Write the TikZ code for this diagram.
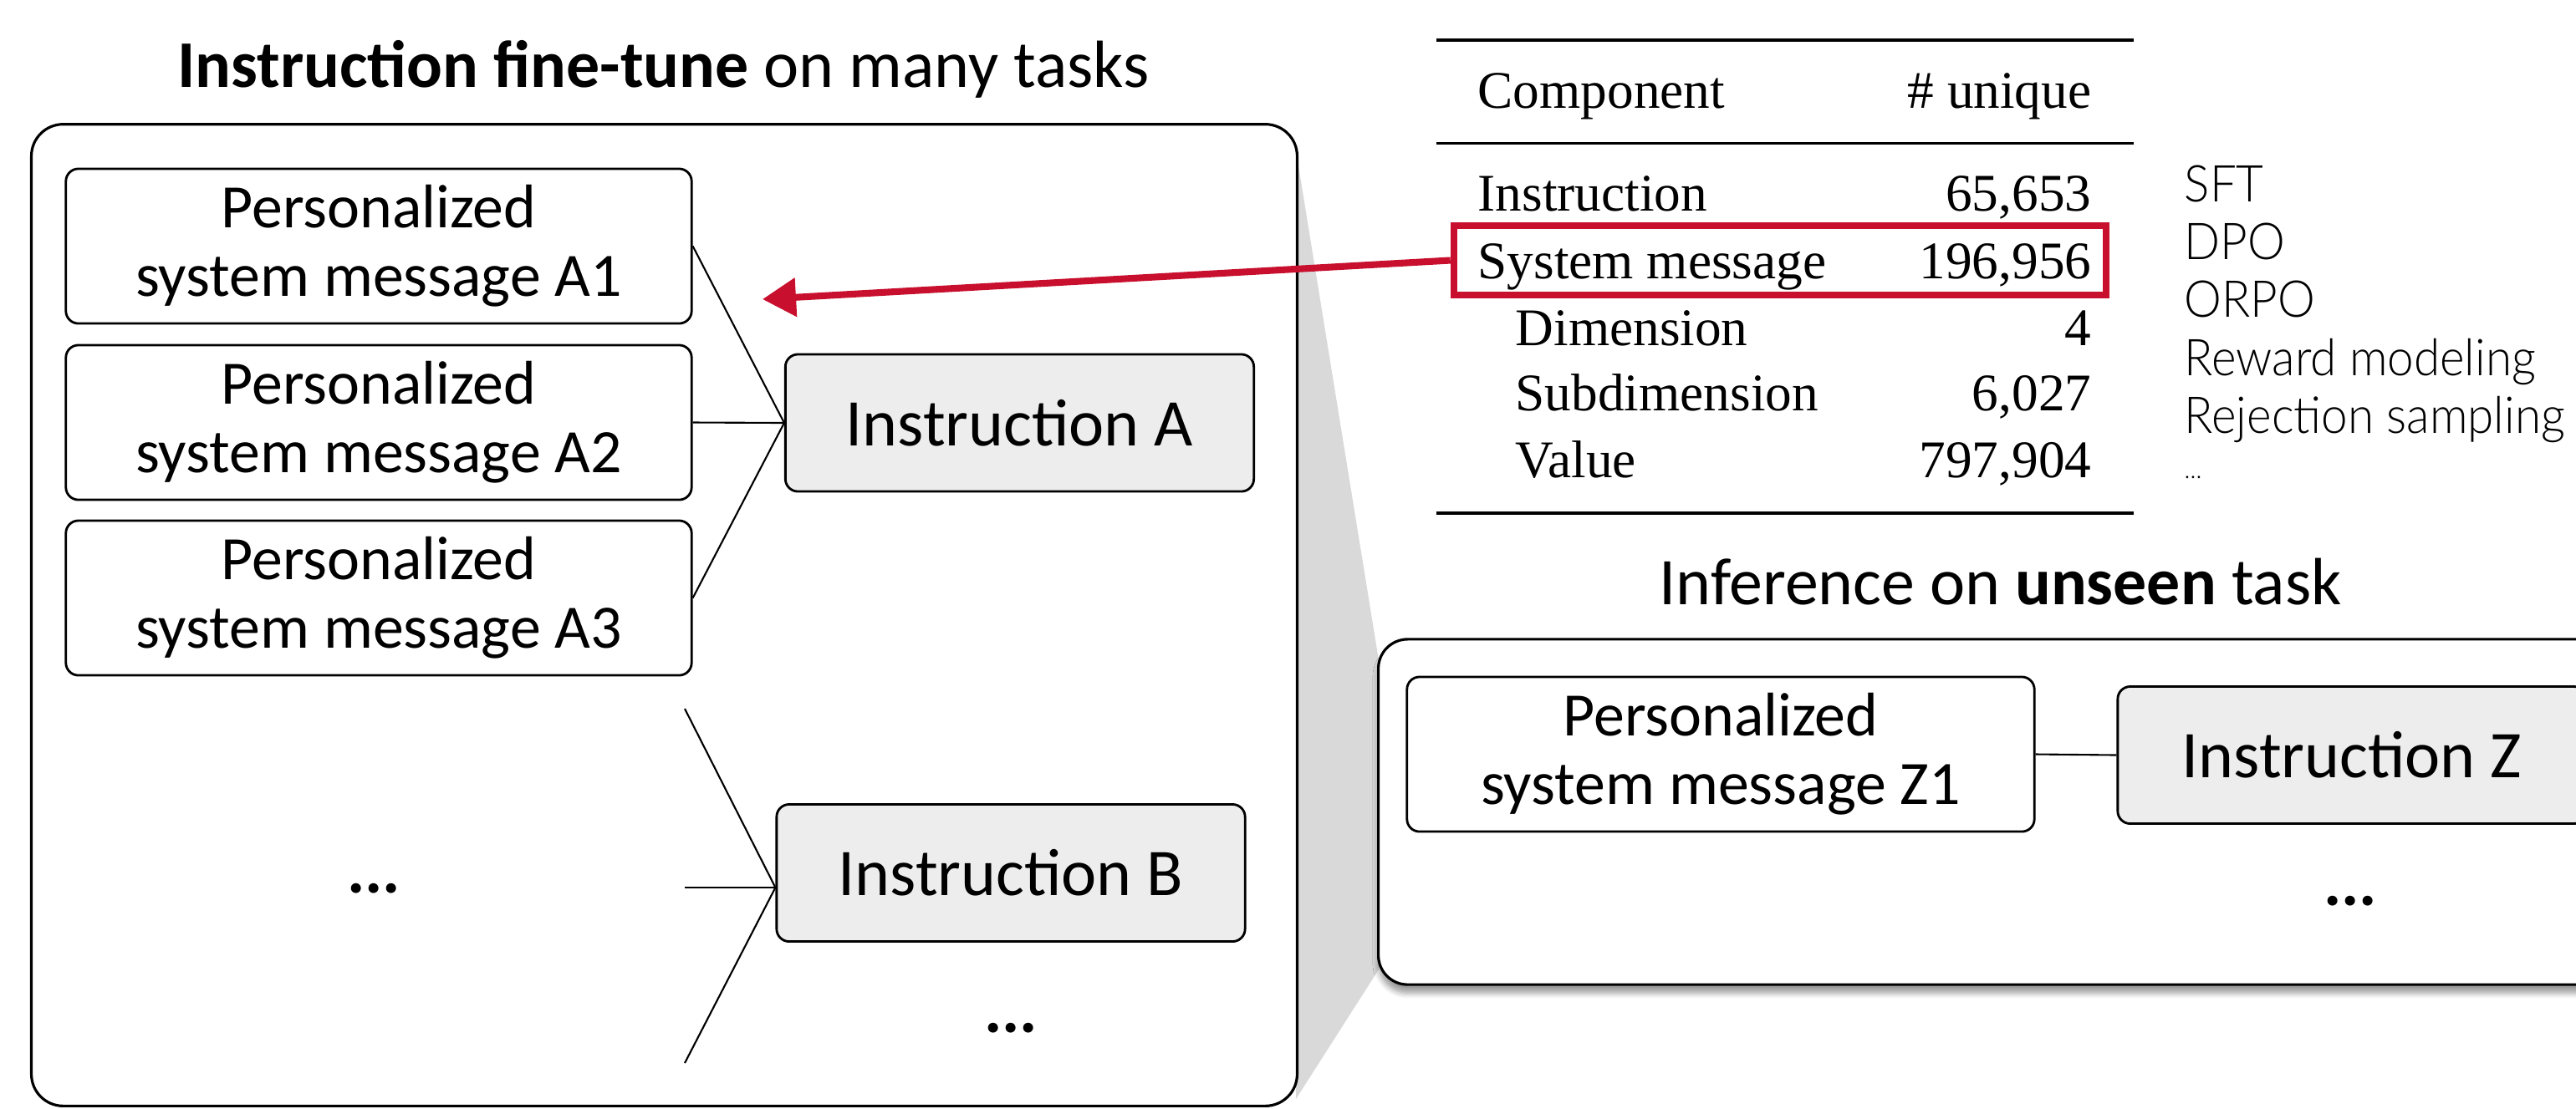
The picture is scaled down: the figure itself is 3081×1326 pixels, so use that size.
\documentclass[tikz,border=0pt]{standalone}
\usepackage{fontspec}
\setmainfont{Carlito}
\newfontfamily\tabfont{Liberation Serif}
\newfontfamily\lightfont{Lato Light}[FakeStretch=0.93]
\usetikzlibrary{arrows.meta,shadows.blur}
\definecolor{ired}{RGB}{200,16,46}
\definecolor{igray}{RGB}{237,237,237}
\definecolor{wgray}{RGB}{217,217,217}
\begin{document}
\begin{tikzpicture}[x=0.01cm,y=-0.01cm,
  smbox/.style={draw, rounded corners=0.15cm, fill=white, line width=0.8pt, minimum width=7.48cm, minimum height=1.85cm, align=center, inner sep=0pt, font=\fontsize{21}{23.3}\selectfont},
  inbox/.style={draw, rounded corners=0.15cm, fill=igray, line width=0.8pt, minimum width=5.6cm, minimum height=1.64cm, inner sep=0pt, font=\fontsize{22.7}{26}\selectfont},
  panel/.style={draw, fill=white, line width=0.9pt, inner sep=0pt},
  titletxt/.style={font=\fontsize{22.7}{26}\selectfont, anchor=base, inner sep=0pt},
  conn/.style={line width=0.6pt},
  tabtxt/.style={font=\tabfont\fontsize{18}{20}\selectfont, inner sep=0pt},
  listtxt/.style={font=\lightfont\fontsize{17.3}{20}\selectfont, anchor=base west, inner sep=0pt},
  dotstxt/.style={font=\fontsize{22.7}{26}\selectfont\bfseries, anchor=base, inner sep=0pt},
  tabrule/.style={line width=1.4pt},
]
\useasboundingbox (0,0) rectangle (3081,1326);
\clip (0,0) rectangle (3081,1326);

% wedge
\fill[wgray] (1550,180) -- (1649,790) -- (1649,1160) -- (1550,1315) -- cycle;

% panels
\node[panel, rounded corners=0.38cm, minimum width=15.13cm, minimum height=11.74cm] (left) at (794.5,736) {};
\node[panel, rounded corners=0.35cm, blur shadow={shadow xshift=0pt, shadow yshift=-0.1cm, shadow blur steps=6, shadow opacity=40}, minimum width=14.87cm, minimum height=4.13cm] (infer) at (2392.5,971.5) {};

% titles
\node[titletxt] (t1) at (793.5,104) {\textbf{Instruction fine-tune} on many tasks};
\node[titletxt] (t2) at (2392.5,723) {Inference on \textbf{unseen} task};

% instruction A group
\node[smbox] (a1) at (453,294.5) {Personalized\\system message A1};
\node[smbox] (a2) at (453,505.5) {Personalized\\system message A2};
\node[smbox] (a3) at (453,715.5) {Personalized\\system message A3};
\node[inbox] (ia) at (1219.5,506) {Instruction A};
\draw[conn] (a1.east) -- (ia.west);
\draw[conn] (a2.east) -- (ia.west);
\draw[conn] (a3.east) -- (ia.west);

% instruction B group
\node[dotstxt] (dl) at (447,1068) {...};
\coordinate (b1) at (819,848);
\coordinate (b2) at (819,1062);
\coordinate (b3) at (819,1272);
\node[inbox] (ib) at (1209,1044.5) {Instruction B};
\coordinate (jb) at (ib.west |- b2);
\draw[conn] (b1) -- (jb);
\draw[conn] (b2) -- (jb);
\draw[conn] (b3) -- (jb);
\node[dotstxt] (db) at (1209,1235) {...};

% inference contents
\node[smbox, minimum width=7.5cm] (z1) at (2058,902.5) {Personalized\\system message Z1};
\node[inbox] (iz) at (2813,903.5) {Instruction Z};
\draw[conn] (z1.east) -- (iz.west);
\node[dotstxt] (dz) at (2811,1083) {...};

% table
\draw[tabrule] (1718,48) -- (2552,48);
\draw[line width=0.85pt] (1718,171) -- (2552,171);
\draw[tabrule] (1718,614) -- (2552,614);
\node[tabtxt, anchor=base west] (hc) at (1767,129) {Component};
\node[tabtxt, anchor=base east] (hu) at (2502,129) {\# unique};
\node[tabtxt, anchor=base west] (r1) at (1767,252) {Instruction};
\node[tabtxt, anchor=base east] (v1) at (2502,252) {65,653};
\node[tabtxt, anchor=base west] (r2) at (1767,333) {System message};
\node[tabtxt, anchor=base east] (v2) at (2502,333) {196,956};
\node[tabtxt, anchor=base west] (r3) at (1812,413) {Dimension};
\node[tabtxt, anchor=base east] (v3) at (2502,413) {4};
\node[tabtxt, anchor=base west] (r4) at (1812,491) {Subdimension};
\node[tabtxt, anchor=base east] (v4) at (2502,491) {6,027};
\node[tabtxt, anchor=base west] (r5) at (1812,571) {Value};
\node[tabtxt, anchor=base east] (v5) at (2502,571) {797,904};
\node[draw=ired, line width=2.3pt, minimum width=7.8cm, minimum height=0.83cm, inner sep=0pt] (sysbox) at (2129,311.5) {};
\coordinate (tip) at (912,358);
\draw[ired, line width=2.3pt, -{Triangle[length=0.4cm, width=0.45cm]}] (sysbox.west) -- (tip);

% methods list
\node[listtxt] (m1) at (2612,241) {SFT};
\node[listtxt] (m2) at (2612,310) {DPO};
\node[listtxt] (m3) at (2612,379) {ORPO};
\node[listtxt] (m4) at (2612,449) {Reward modeling};
\node[listtxt] (m5) at (2612,518) {Rejection sampling};
\node[listtxt, font=\lightfont\fontsize{9}{10}\selectfont] (m6) at (2612,572) {...};
\end{tikzpicture}
\end{document}
